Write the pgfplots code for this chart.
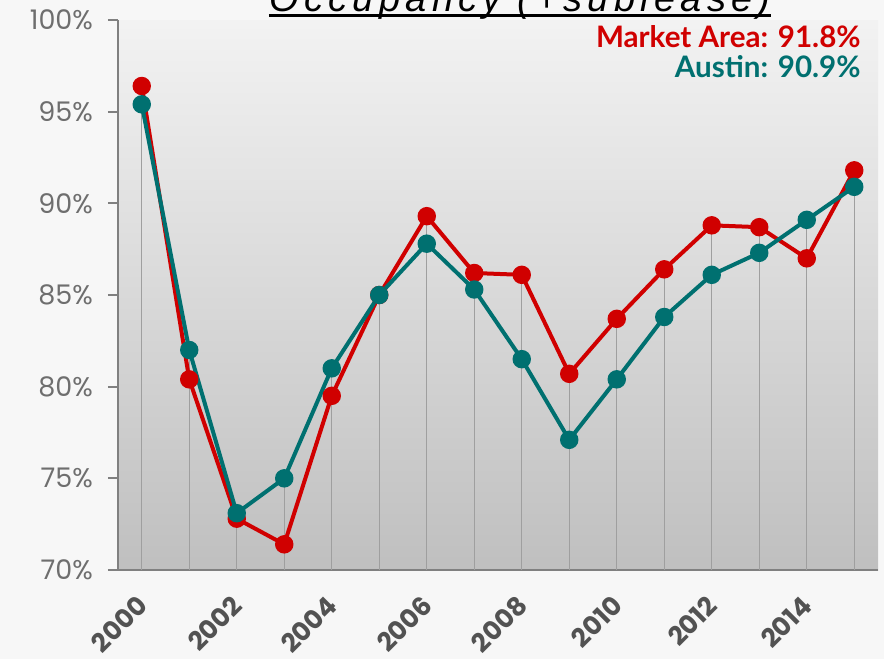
\documentclass[border=0pt]{standalone}
\usepackage{pgfplots}
\pgfplotsset{compat=1.18}
\usepackage{fontspec}
\setmainfont{Poppins}
\newfontfamily\legfont{Lato}
\newfontfamily\titlefont[LetterSpace=14]{Liberation Sans}
\definecolor{mkt}{RGB}{208,0,0}
\definecolor{aus}{RGB}{0,112,112}
\definecolor{pagebg}{RGB}{247,247,247}
\definecolor{tickgray}{RGB}{110,110,110}

\pgfplotstableread{
year occ
2000 96.4
2001 80.4
2002 72.8
2003 71.4
2004 79.5
2005 85.0
2006 89.3
2007 86.2
2008 86.1
2009 80.7
2010 83.7
2011 86.4
2012 88.8
2013 88.7
2014 87.0
2015 91.8
}\market

\pgfplotstableread{
year occ
2000 95.4
2001 82.0
2002 73.1
2003 75.0
2004 81.0
2005 85.0
2006 87.8
2007 85.3
2008 81.5
2009 77.1
2010 80.4
2011 83.8
2012 86.1
2013 87.3
2014 89.1
2015 90.9
}\austin

\begin{document}
\begin{tikzpicture}
  % page background, also the bounding box (title is cut at the top)
  \fill[pagebg] (-59pt,-44.5pt) rectangle (383pt,285pt);
  \begin{axis}[
    at={(0,0)}, anchor=south west,
    scale only axis,
    width=380pt, height=275pt,
    xmin=1999.5, xmax=2015.5,
    ymin=70, ymax=100,
    axis x line*=bottom, axis y line*=left,
    axis line style={-, draw=gray, line width=1pt},
    axis background/.style={top color=black!5, bottom color=black!25},
    xtick={2000,2002,2004,2006,2008,2010,2012,2014},
    xticklabels={2000,2002,2004,2006,2008,2010,2012,2014},
    xtick style={draw=none},
    xticklabel style={rotate=45, anchor=north east, font=\fontsize{13}{15}\selectfont\bfseries,
      text=black!68, xshift=-3.6pt, yshift=0.8pt},
    ytick={70,75,80,85,90,95,100},
    yticklabels={70\%,75\%,80\%,85\%,90\%,95\%,100\%},
    tick align=outside,
    major tick length=5pt,
    ytick style={draw=gray, line width=1pt},
    yticklabel style={font=\fontsize{13.5}{15}\selectfont, text=tickgray, xshift=-4pt},
    clip=true,
  ]
    % drop lines
    \addplot[ycomb, draw=gray!75, line width=0.5pt, no markers] table[x=year, y=occ] {\market};
    \addplot[ycomb, draw=gray!75, line width=0.5pt, no markers] table[x=year, y=occ] {\austin};
    % series
    \addplot[mkt, line width=2pt, mark=*, mark size=3.6pt, mark options={fill=mkt, draw=mkt}]
      table[x=year, y=occ] {\market};
    \addplot[aus, line width=2pt, mark=*, mark size=3.6pt, mark options={fill=aus, draw=aus}]
      table[x=year, y=occ] {\austin};
  \end{axis}
  % title
  \node[anchor=base, inner sep=0pt, font=\titlefont\fontsize{19}{21}\selectfont\itshape] (t) at (201pt,279pt) {Occupancy (+sublease)};
  \draw[line width=1.5pt] ([yshift=-2pt]t.base west) -- ([yshift=-2pt]t.base east);
  % labels
  \node[anchor=base east, inner sep=0pt, font=\legfont\fontsize{14.8}{16}\selectfont\bfseries, text=mkt] at (371.5pt,261pt) {Market Area: 91.8\%};
  \node[anchor=base east, inner sep=0pt, font=\legfont\fontsize{14.8}{16}\selectfont\bfseries, text=aus] at (371.5pt,246pt) {Austin: 90.9\%};
  \pgfresetboundingbox
  \path[use as bounding box] (-59pt,-44.5pt) rectangle (383pt,285pt);
\end{tikzpicture}
\end{document}
